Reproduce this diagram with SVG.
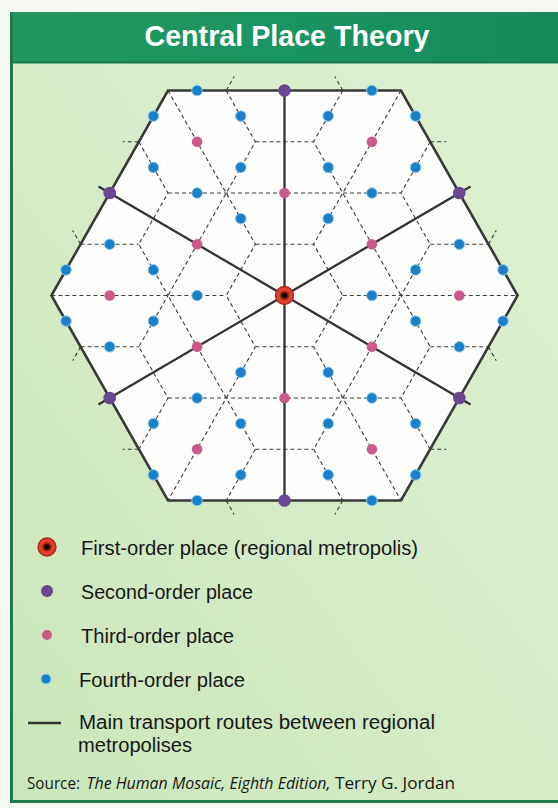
<svg xmlns="http://www.w3.org/2000/svg" width="558" height="808" viewBox="0 0 558 808">
<defs>
<linearGradient id="panel" x1="1" y1="0" x2="0" y2="1">
<stop offset="0" stop-color="#def0d2"/>
<stop offset="0.5" stop-color="#d6ecc9"/>
<stop offset="1" stop-color="#cbe6ba"/>
</linearGradient>
<linearGradient id="head" x1="0" y1="0" x2="1" y2="0">
<stop offset="0" stop-color="#22985f"/>
<stop offset="0.5" stop-color="#1a9461"/>
<stop offset="1" stop-color="#14895a"/>
</linearGradient>
<style>
.hexfill{fill:#fdfdfb}
.hex{fill:none;stroke:#393939;stroke-width:2.6;stroke-linejoin:miter}
.route{fill:none;stroke:#333;stroke-width:2.3}
.dash{fill:none;stroke:#3a3a3a;stroke-width:1.1;stroke-dasharray:4 3}
.o1{fill:#e23e2d;stroke:#a3261a;stroke-width:1.3}
.o1r{fill:#9a1e14}
.o1c{fill:#140a08}
.o2{fill:#6b4791}
.o3{fill:#cb5a8c}
.o4{fill:#1c80c8;stroke:#8fcdf0;stroke-width:1}
.lbl{font-family:"Liberation Sans",Arial,sans-serif;font-size:20px;fill:#171717}
.src{font-family:"Open Sans","Noto Sans",sans-serif;font-size:15.5px;fill:#171717}
</style>
</defs>
<rect x="0" y="0" width="558" height="808" fill="#f4f7f2"/>
<rect x="12" y="62" width="546" height="739" fill="url(#panel)"/>
<rect x="10" y="12" width="548" height="50" fill="url(#head)"/>
<line x1="10" y1="62.5" x2="558" y2="62.5" stroke="#157a4c" stroke-width="2"/>
<line x1="11.5" y1="12" x2="11.5" y2="803" stroke="#1d7a4c" stroke-width="3"/>
<line x1="10" y1="801.5" x2="558" y2="801.5" stroke="#237a4e" stroke-width="3"/>
<text x="287" y="46" text-anchor="middle" font-family="Liberation Sans, Arial, sans-serif" font-weight="bold" font-size="30" fill="#ffffff" textLength="285" lengthAdjust="spacingAndGlyphs">Central Place Theory</text>

<g id="market-area">
<polygon class="hexfill" points="168,90.5 401,90.5 517.6,295.5 401,500.5 168,500.5 51.4,295.5"/>
</g>

<g id="connectors">
<path class="dash" d="M255.4,141.8H313.6 M168,193H401 M80.6,244.3H138.8 M255.4,244.3H313.6 M430.2,244.3H488.4 M51.4,295.5H226.2 M342.8,295.5H517.6 M80.6,346.8H138.8 M255.4,346.8H313.6 M430.2,346.8H488.4 M168,398H401 M255.4,449.3H313.6"/>
<path class="dash" d="M138.8,141.8L168,193L138.8,244.3L168,295.5L138.8,346.8L168,398L138.8,449.3 M226.2,90.5L255.4,141.8L226.2,193L255.4,244.3L226.2,295.5L255.4,346.8L226.2,398L255.4,449.3L226.2,500.5 M342.8,90.5L313.6,141.8L342.8,193L313.6,244.3L342.8,295.5L313.6,346.8L342.8,398L313.6,449.3L342.8,500.5 M430.2,141.8L401,193L430.2,244.3L401,295.5L430.2,346.8L401,398L430.2,449.3"/>
<path class="dash" d="M168,90.5L226.2,193L168,295.5L226.2,398L168,500.5 M401,90.5L342.8,193L401,295.5L342.8,398L401,500.5"/>
<path class="dash" d="M226.2,90.5L234.1,76.6 M342.8,90.5L334.9,76.6 M226.2,500.5L234.1,514.4 M342.8,500.5L334.9,514.4 M80.6,244.3L72.7,230.4 M80.6,346.8L72.7,360.7 M488.4,244.3L496.3,230.4 M488.4,346.8L496.3,360.7 M138.8,141.8H122.8 M138.8,449.3H122.8 M430.2,141.8H446.2 M430.2,449.3H446.2"/>
<polygon class="hex" points="168,90.5 401,90.5 517.6,295.5 401,500.5 168,500.5 51.4,295.5"/>
<path class="route" d="M284.5,90.5V500.5 M98.5,186.4L470.5,404.6 M98.5,404.6L470.5,186.4"/>
</g>

<g id="n-first"><circle class="o1" cx="284.5" cy="295.5" r="9"/><circle class="o1r" cx="284.5" cy="295.5" r="4.6"/><circle class="o1c" cx="284.5" cy="295.5" r="2.8"/></g>

<g id="n-second-t"><circle class="o2" cx="284.5" cy="90.5" r="6.3"/></g>
<g id="n-second-b"><circle class="o2" cx="284.5" cy="500.5" r="6.3"/></g>
<g id="n-second-ul"><circle class="o2" cx="109.7" cy="193" r="6.3"/></g>
<g id="n-second-ur"><circle class="o2" cx="459.3" cy="193" r="6.3"/></g>
<g id="n-second-ll"><circle class="o2" cx="109.7" cy="398" r="6.3"/></g>
<g id="n-second-lr"><circle class="o2" cx="459.3" cy="398" r="6.3"/></g>

<g id="n-third-1"><circle class="o3" cx="284.5" cy="193" r="5.3"/></g>
<g id="n-third-2"><circle class="o3" cx="284.5" cy="398" r="5.3"/></g>
<g id="n-third-3"><circle class="o3" cx="197.1" cy="244.3" r="5.3"/></g>
<g id="n-third-4"><circle class="o3" cx="371.9" cy="244.3" r="5.3"/></g>
<g id="n-third-5"><circle class="o3" cx="197.1" cy="346.8" r="5.3"/></g>
<g id="n-third-6"><circle class="o3" cx="371.9" cy="346.8" r="5.3"/></g>
<g id="n-third-7"><circle class="o3" cx="197.1" cy="141.8" r="5.3"/></g>
<g id="n-third-8"><circle class="o3" cx="371.9" cy="141.8" r="5.3"/></g>
<g id="n-third-9"><circle class="o3" cx="197.1" cy="449.3" r="5.3"/></g>
<g id="n-third-10"><circle class="o3" cx="371.9" cy="449.3" r="5.3"/></g>
<g id="n-third-11"><circle class="o3" cx="109.7" cy="295.5" r="5.3"/></g>
<g id="n-third-12"><circle class="o3" cx="459.3" cy="295.5" r="5.3"/></g>

<g id="n-fourth-1"><circle class="o4" cx="197.1" cy="90.5" r="5.3"/></g>
<g id="n-fourth-2"><circle class="o4" cx="371.9" cy="90.5" r="5.3"/></g>
<g id="n-fourth-3"><circle class="o4" cx="153.4" cy="116.1" r="5.3"/></g>
<g id="n-fourth-4"><circle class="o4" cx="240.8" cy="116.1" r="5.3"/></g>
<g id="n-fourth-5"><circle class="o4" cx="328.2" cy="116.1" r="5.3"/></g>
<g id="n-fourth-6"><circle class="o4" cx="415.6" cy="116.1" r="5.3"/></g>
<g id="n-fourth-7"><circle class="o4" cx="153.4" cy="167.4" r="5.3"/></g>
<g id="n-fourth-8"><circle class="o4" cx="240.8" cy="167.4" r="5.3"/></g>
<g id="n-fourth-9"><circle class="o4" cx="328.2" cy="167.4" r="5.3"/></g>
<g id="n-fourth-10"><circle class="o4" cx="415.6" cy="167.4" r="5.3"/></g>
<g id="n-fourth-11"><circle class="o4" cx="197.1" cy="193" r="5.3"/></g>
<g id="n-fourth-12"><circle class="o4" cx="371.9" cy="193" r="5.3"/></g>
<g id="n-fourth-13"><circle class="o4" cx="240.8" cy="218.6" r="5.3"/></g>
<g id="n-fourth-14"><circle class="o4" cx="328.2" cy="218.6" r="5.3"/></g>
<g id="n-fourth-15"><circle class="o4" cx="109.7" cy="244.3" r="5.3"/></g>
<g id="n-fourth-16"><circle class="o4" cx="459.3" cy="244.3" r="5.3"/></g>
<g id="n-fourth-17"><circle class="o4" cx="66" cy="269.9" r="5.3"/></g>
<g id="n-fourth-18"><circle class="o4" cx="153.4" cy="269.9" r="5.3"/></g>
<g id="n-fourth-19"><circle class="o4" cx="415.6" cy="269.9" r="5.3"/></g>
<g id="n-fourth-20"><circle class="o4" cx="503" cy="269.9" r="5.3"/></g>
<g id="n-fourth-21"><circle class="o4" cx="197.1" cy="295.5" r="5.3"/></g>
<g id="n-fourth-22"><circle class="o4" cx="371.9" cy="295.5" r="5.3"/></g>
<g id="n-fourth-23"><circle class="o4" cx="66" cy="321.1" r="5.3"/></g>
<g id="n-fourth-24"><circle class="o4" cx="153.4" cy="321.1" r="5.3"/></g>
<g id="n-fourth-25"><circle class="o4" cx="415.6" cy="321.1" r="5.3"/></g>
<g id="n-fourth-26"><circle class="o4" cx="503" cy="321.1" r="5.3"/></g>
<g id="n-fourth-27"><circle class="o4" cx="109.7" cy="346.8" r="5.3"/></g>
<g id="n-fourth-28"><circle class="o4" cx="459.3" cy="346.8" r="5.3"/></g>
<g id="n-fourth-29"><circle class="o4" cx="240.8" cy="372.4" r="5.3"/></g>
<g id="n-fourth-30"><circle class="o4" cx="328.2" cy="372.4" r="5.3"/></g>
<g id="n-fourth-31"><circle class="o4" cx="197.1" cy="398" r="5.3"/></g>
<g id="n-fourth-32"><circle class="o4" cx="371.9" cy="398" r="5.3"/></g>
<g id="n-fourth-33"><circle class="o4" cx="153.4" cy="423.6" r="5.3"/></g>
<g id="n-fourth-34"><circle class="o4" cx="240.8" cy="423.6" r="5.3"/></g>
<g id="n-fourth-35"><circle class="o4" cx="328.2" cy="423.6" r="5.3"/></g>
<g id="n-fourth-36"><circle class="o4" cx="415.6" cy="423.6" r="5.3"/></g>
<g id="n-fourth-37"><circle class="o4" cx="153.4" cy="474.9" r="5.3"/></g>
<g id="n-fourth-38"><circle class="o4" cx="240.8" cy="474.9" r="5.3"/></g>
<g id="n-fourth-39"><circle class="o4" cx="328.2" cy="474.9" r="5.3"/></g>
<g id="n-fourth-40"><circle class="o4" cx="415.6" cy="474.9" r="5.3"/></g>
<g id="n-fourth-41"><circle class="o4" cx="197.1" cy="500.5" r="5.3"/></g>
<g id="n-fourth-42"><circle class="o4" cx="371.9" cy="500.5" r="5.3"/></g>

<g id="legend">
<g id="legend-first"><circle class="o1" cx="47" cy="547" r="9"/><circle class="o1r" cx="47" cy="547" r="4.6"/><circle class="o1c" cx="47" cy="547" r="2.8"/>
<text class="lbl" x="81" y="555" textLength="337" lengthAdjust="spacingAndGlyphs">First-order place (regional metropolis)</text></g>
<g id="legend-second"><circle class="o2" cx="47" cy="591" r="6"/>
<text class="lbl" x="81" y="599" textLength="172" lengthAdjust="spacingAndGlyphs">Second-order place</text></g>
<g id="legend-third"><circle class="o3" cx="47" cy="635" r="5"/>
<text class="lbl" x="81" y="643" textLength="153" lengthAdjust="spacingAndGlyphs">Third-order place</text></g>
<g id="legend-fourth"><circle class="o4" cx="46" cy="679" r="5"/>
<text class="lbl" x="79" y="687" textLength="166" lengthAdjust="spacingAndGlyphs">Fourth-order place</text></g>
<g id="legend-route"><line class="route" x1="28" y1="723" x2="61" y2="723"/>
<text class="lbl" x="79" y="729" textLength="356" lengthAdjust="spacingAndGlyphs">Main transport routes between regional</text>
<text class="lbl" x="78" y="752" textLength="114" lengthAdjust="spacingAndGlyphs">metropolises</text></g>
</g>
<g id="source">
<text class="src" x="27" y="789" textLength="53" lengthAdjust="spacingAndGlyphs">Source:</text>
<text class="src" x="86.5" y="789" font-style="italic" textLength="244" lengthAdjust="spacingAndGlyphs">The Human Mosaic, Eighth Edition,</text>
<text class="src" x="335" y="789" textLength="120" lengthAdjust="spacingAndGlyphs">Terry G. Jordan</text>
</g>
</svg>
